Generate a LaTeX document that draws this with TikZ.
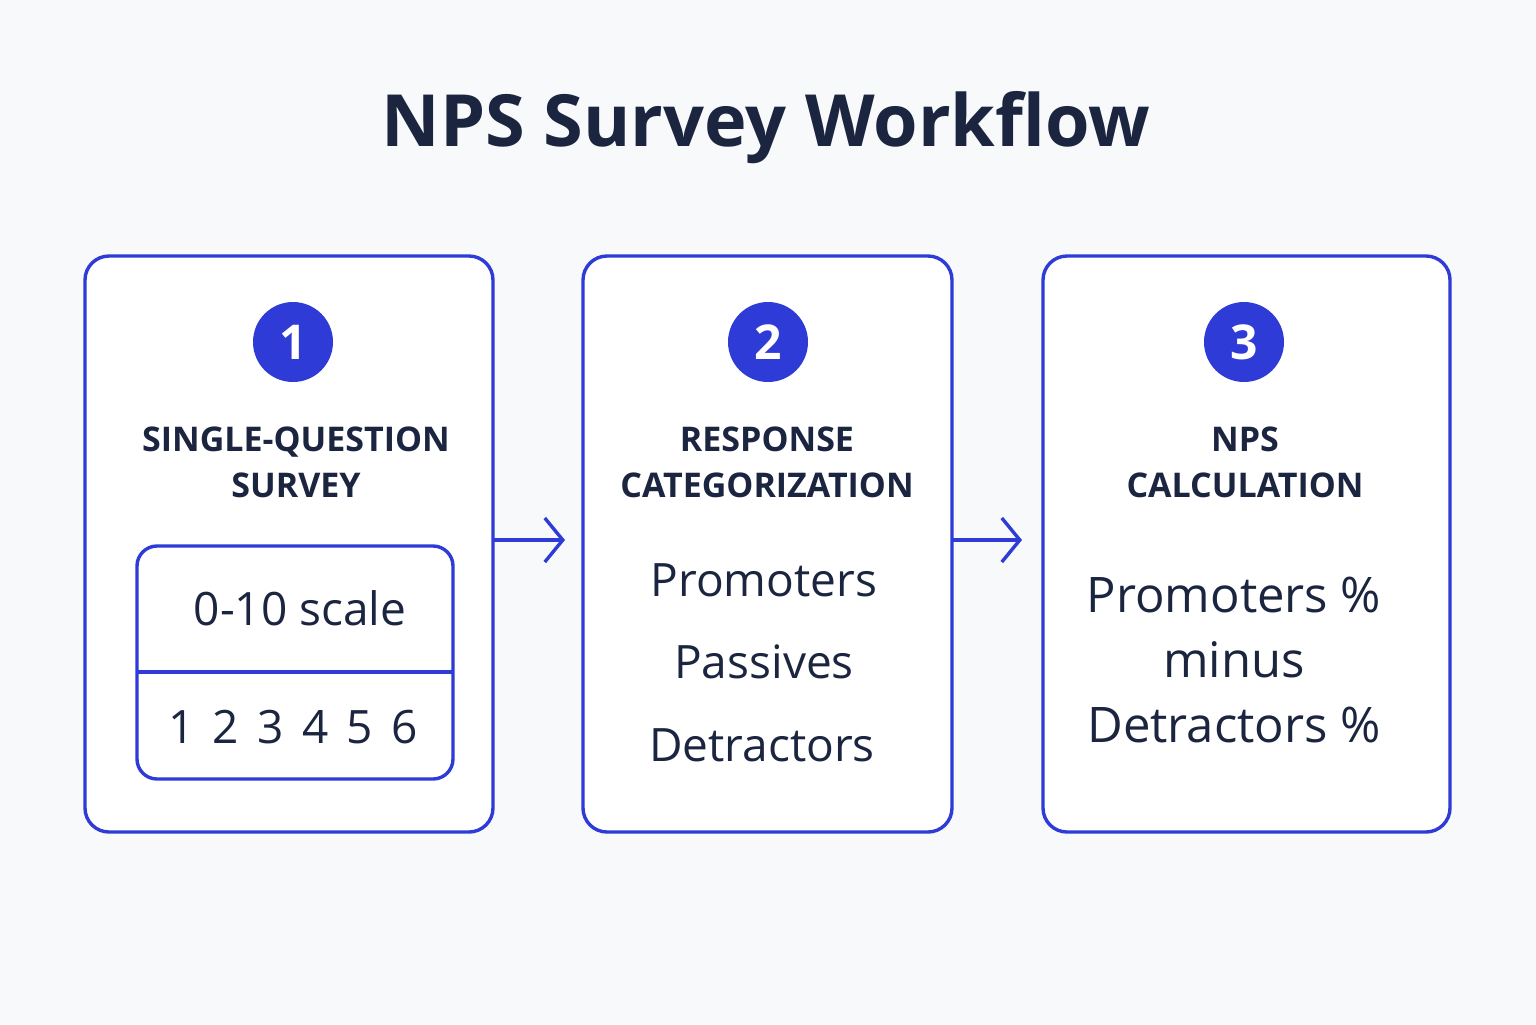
\documentclass[tikz,border=0pt]{standalone}
\usepackage{fontspec}
\setmainfont{Open Sans}
\usetikzlibrary{arrows.meta}
\definecolor{bl}{HTML}{2F3BD6}
\definecolor{nv}{HTML}{1B2540}
\definecolor{bg}{HTML}{F8F9FB}
\begin{document}
\begin{tikzpicture}[x=0.5pt,y=-0.5pt,
  card/.style={draw=bl,line width=1.7pt,rounded corners=12pt,fill=white},
  num/.style={circle,fill=bl,text=white,minimum size=40pt,inner sep=0pt,font=\fontsize{24}{24}\selectfont\bfseries},
  head/.style={text=nv,font=\fontsize{17}{23}\selectfont\bfseries,align=center},
  item/.style={text=nv,font=\fontsize{23}{23}\selectfont},
  big/.style={text=nv,font=\fontsize{24.5}{32.5}\selectfont,align=center},
  conn/.style={draw=bl,line width=1.7pt,-{Straight Barb[length=9pt,width=22pt,line width=1.7pt]}}]
\fill[bg] (0,0) rectangle (1536,1024);
\node[text=nv,font=\fontsize{36}{36}\selectfont\bfseries] (t) at (766,128) {NPS Survey Workflow};
\draw[card] (85,256) rectangle (493,832);
\draw[card] (583,256) rectangle (952,832);
\draw[card] (1043,256) rectangle (1450,832);
\coordinate (b1) at (493,540); \coordinate (b2b) at (952,540);
\coordinate (e1) at (565,540); \coordinate (e2) at (1022,540);
\node[num] (n1) at (293,342) {1};
\node[num] (n2) at (768,342) {2};
\node[num] (n3) at (1244,342) {3};
\node[head] (h1) at (296,462) {SINGLE-QUESTION\\SURVEY};
\node[head] (h2) at (767,462) {RESPONSE\\CATEGORIZATION};
\node[head] (h3) at (1245,462) {NPS\\CALCULATION};
\draw[card,rounded corners=10pt] (137,546) rectangle (453,779);
\draw[bl,line width=1.7pt] (137,672) -- (453,672);
\node[item] (s) at (300,608) {0-10 scale};
\node[item] (d) at (293,727) {1\hspace{0.4em}2\hspace{0.4em}3\hspace{0.4em}4\hspace{0.4em}5\hspace{0.4em}6};
\node[item] (p1) at (764,580) {Promoters};
\node[item] (p2) at (764,662) {Passives};
\node[item] (p3) at (762,745) {Detractors};
\node[big] (c) at (1234,660) {Promoters \%\\minus\\Detractors \%};
\draw[conn] (b1) -- (e1);
\draw[conn] (b2b) -- (e2);
\end{tikzpicture}
\end{document}
